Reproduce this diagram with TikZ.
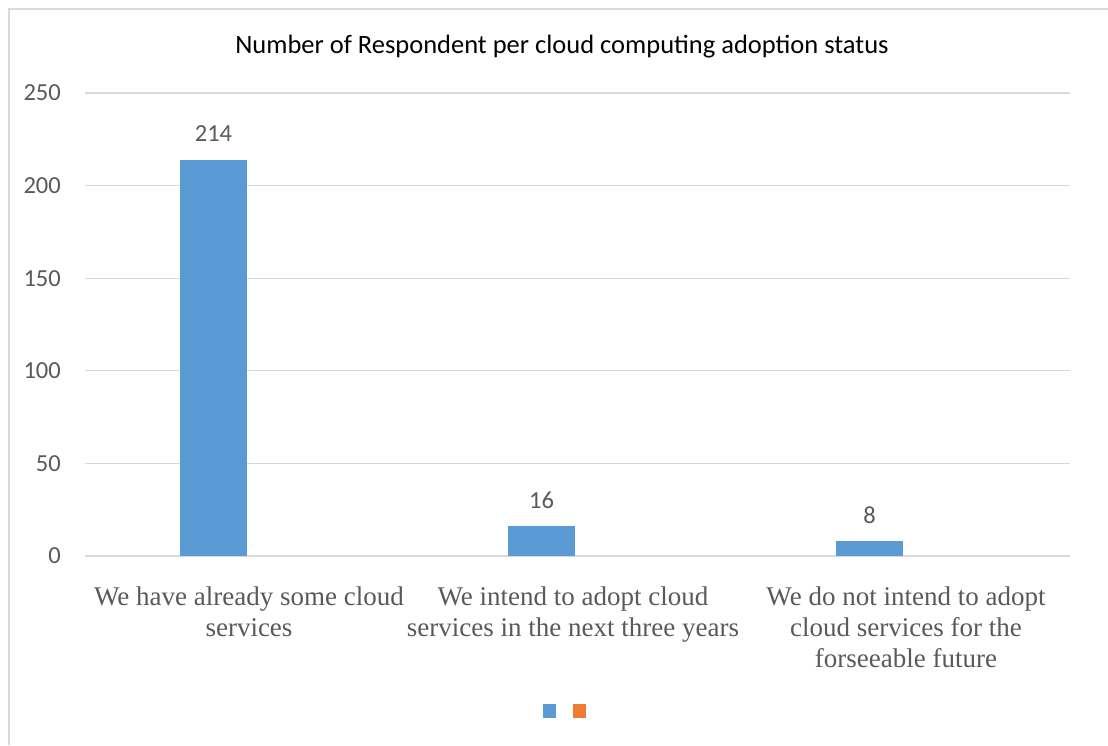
\documentclass[tikz,border=0pt]{standalone}
\usepackage{fontspec}
\setmainfont{Liberation Serif}
\newfontfamily\chartfont{Carlito}
\usepackage{tikz}
\usetikzlibrary{positioning, calc}
\definecolor{barblue}{HTML}{5B9BD5}
\definecolor{barorange}{HTML}{ED7D31}
\definecolor{gridgrey}{HTML}{D9D9D9}
\definecolor{textgrey}{HTML}{595959}

\begin{document}
\begin{tikzpicture}[x=1pt, y=-1pt,
  ticklabel/.style={font=\chartfont\fontsize{24.5}{28}\selectfont, text=textgrey, anchor=east, inner sep=0pt},
  valuelabel/.style={font=\chartfont\fontsize{24.5}{28}\selectfont, text=textgrey, anchor=base},
  catlabel/.style={font=\fontsize{27}{31}\selectfont, text=textgrey, align=center, anchor=north, inner sep=0pt},
  bar/.style={fill=barblue, draw=none}]
\useasboundingbox (0,0) rectangle (1108,745);
%% frame of the chart area
\draw[gridgrey, line width=2pt] (8.5,745) -- (8.5,8.5) -- (1108,8.5);
\node[font=\chartfont\fontsize{26.5}{30}\selectfont, anchor=base] (title) at (562,53) {Number of Respondent per cloud computing adoption status};
%% gridlines and y labels
\foreach \v in {0,50,...,250}{
  \draw[gridgrey, line width=1.2pt] (85,{556-\v*1.852}) -- (1070,{556-\v*1.852});
  \node[ticklabel] (y\v) at (61,{556-\v*1.852}) {\v};
}
%% bars
\fill[bar] (180,556) rectangle (247,159.7) coordinate (top1);
\fill[bar] (508,556) rectangle (575,526.4) coordinate (top2);
\fill[bar] (836,556) rectangle (903,541.2) coordinate (top3);
\node[valuelabel] (v1) at (213.5,141.5) {214};
\node[valuelabel] (v2) at (541.5,508) {16};
\node[valuelabel] (v3) at (869.5,523) {8};
%% category labels
\node[catlabel] (c1) at (249,586.5) {We have already some cloud\\services};
\node[catlabel] (c2) at (573,586.5) {We intend to adopt cloud\\services in the next three years};
\node[catlabel] (c3) at (906,586.5) {We do not intend to adopt\\cloud services for the\\forseeable future};
%% legend
\fill[barblue] (543,704) rectangle (556,718);
\fill[barorange] (573,704) rectangle (586,718);
\end{tikzpicture}
\end{document}
